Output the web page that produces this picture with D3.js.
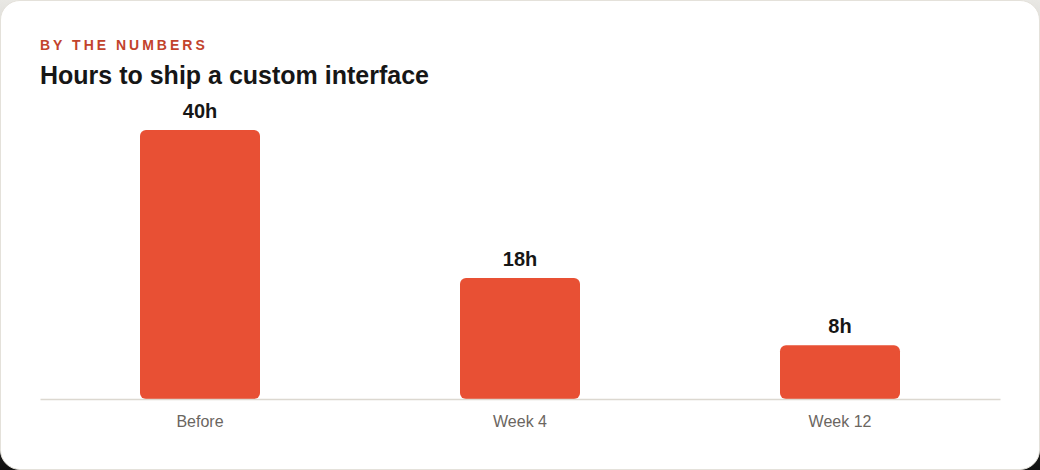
<!DOCTYPE html>
<html>
<head>
<meta charset="utf-8">
<script src="https://cdn.jsdelivr.net/npm/d3@7"></script>
<style>
  html, body { margin: 0; padding: 0; }
  body { width: 1040px; height: 470px; background: linear-gradient(#e9e8e4, #111); font-family: "Liberation Sans", Arial, sans-serif; }
  .card { position: absolute; left: 0; top: 0; width: 1040px; height: 470px; box-sizing: border-box; background: #fff; border: 1px solid #e4e1da; border-radius: 20px; overflow: hidden; }
  .card svg { position: absolute; left: -1px; top: -1px; }
</style>
</head>
<body>
<div class="card" id="card"></div>
<script>
const categories = ["Before", "Week 4", "Week 12"];
const hours = [40, 18, 8];
const valueLabels = ["40h", "18h", "8h"];

const W = 1040, H = 470;
const plot = { left: 40, right: 1000, top: 130, bottom: 399 };

const svg = d3.select("#card")
  .append("svg")
  .attr("width", W)
  .attr("height", H);

svg.append("text")
  .attr("x", 40)
  .attr("y", 50)
  .attr("fill", "#c2432c")
  .style("font-size", "14px")
  .style("font-weight", "bold")
  .style("letter-spacing", "3px")
  .text("BY THE NUMBERS");

svg.append("text")
  .attr("x", 40)
  .attr("y", 84)
  .attr("fill", "#161616")
  .style("font-size", "25px")
  .style("font-weight", "bold")
  .text("Hours to ship a custom interface");

const x = d3.scaleBand()
  .domain(categories)
  .range([plot.left, plot.right])
  .paddingInner(0.625)
  .paddingOuter(0.3125);

const y = d3.scaleLinear()
  .domain([0, d3.max(hours)])
  .range([plot.bottom, plot.top]);

const data = categories.map((c, i) => ({ cat: c, v: hours[i], label: valueLabels[i] }));

svg.selectAll(".bar")
  .data(data)
  .enter()
  .append("rect")
  .attr("class", "bar")
  .attr("x", d => x(d.cat))
  .attr("y", d => y(d.v))
  .attr("width", x.bandwidth())
  .attr("height", d => y(0) - y(d.v))
  .attr("rx", 6)
  .attr("fill", "#e85034");

// baseline + category labels
const xAxis = d3.axisBottom(x).tickSize(0).tickPadding(17);
const axisG = svg.append("g")
  .attr("transform", "translate(0," + plot.bottom + ")")
  .call(xAxis);
axisG.select(".domain").attr("stroke", "#dcd8d0").attr("stroke-width", 1.5);
axisG.selectAll("text")
  .attr("fill", "#6b665f")
  .style("font-size", "16px")
  .style("font-family", "'Liberation Sans', Arial, sans-serif");

svg.selectAll(".val")
  .data(data)
  .enter()
  .append("text")
  .attr("class", "val")
  .attr("x", d => x(d.cat) + x.bandwidth() / 2)
  .attr("y", d => y(d.v) - 12)
  .attr("text-anchor", "middle")
  .attr("fill", "#161616")
  .style("font-size", "20px")
  .style("font-weight", "bold")
  .text(d => d.label);
</script>
</body>
</html>
